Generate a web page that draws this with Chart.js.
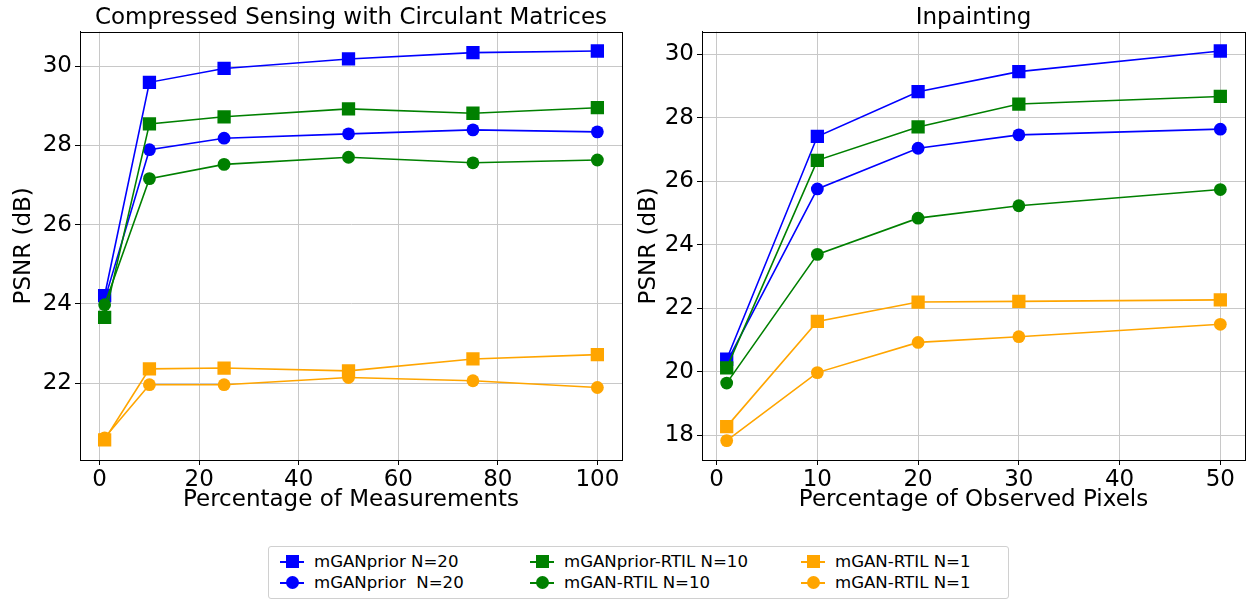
<!DOCTYPE html>
<html>
<head>
<meta charset="utf-8">
<script src="https://cdn.jsdelivr.net/npm/chart.js@4/dist/chart.umd.min.js"></script>
<style>
  body { margin: 0; background: #fff; width: 1249px; height: 602px; overflow: hidden; font-family: "DejaVu Sans", sans-serif; }
  #left { position: absolute; left: 0; top: 0; }
  #right { position: absolute; left: 625px; top: 0; }
  #legend { position: absolute; left: 268px; top: 546px; width: 741px; height: 53px; box-sizing: border-box;
            border: 1px solid #d0d0d0; border-radius: 3px; }
  .item { position: absolute; display: flex; align-items: center; height: 21px; font-size: 16.6px; white-space: pre; color: #000; }
  .mk { position: relative; width: 24px; height: 13px; margin-right: 10px; }
  .mk .ln { position: absolute; left: 0; right: 0; top: 5.5px; height: 2px; }
  .mk .pt { position: absolute; left: 5.5px; top: 0; width: 13px; height: 13px; }
</style>
</head>
<body>
<canvas id="left" width="625" height="520"></canvas>
<canvas id="right" width="624" height="520"></canvas>
<div id="legend"></div>
<script>
"use strict";

// series names, colours, marker styles
const seriesNames = ['mGANprior N=20', 'mGANprior  N=20', 'mGANprior-RTIL N=10', 'mGAN-RTIL N=10', 'mGAN-RTIL N=1', 'mGAN-RTIL N=1'];
const seriesColors = ['#0000ff', '#0000ff', '#008000', '#008000', '#ffa500', '#ffa500'];
const seriesMarkers = ['rect', 'circle', 'rect', 'circle', 'rect', 'circle'];

// Compressed Sensing with Circulant Matrices
const csX = [1, 10, 25, 50, 75, 100];
const csPriorSq = [24.21, 29.59, 29.94, 30.18, 30.34, 30.38];
const csPriorCi = [24.10, 27.89, 28.18, 28.29, 28.39, 28.34];
const csRtil10Sq = [23.66, 28.54, 28.72, 28.92, 28.81, 28.95];
const csRtil10Ci = [23.98, 27.16, 27.52, 27.70, 27.56, 27.63];
const csRtil1Sq = [20.57, 22.36, 22.38, 22.31, 22.61, 22.72];
const csRtil1Ci = [20.62, 21.96, 21.96, 22.14, 22.06, 21.89];

// Inpainting
const ipX = [1, 10, 20, 30, 50];
const ipPriorSq = [20.40, 27.41, 28.82, 29.45, 30.10];
const ipPriorCi = [20.30, 25.76, 27.04, 27.46, 27.64];
const ipRtil10Sq = [20.13, 26.66, 27.71, 28.43, 28.67];
const ipRtil10Ci = [19.65, 23.70, 24.84, 25.23, 25.74];
const ipRtil1Sq = [18.28, 21.59, 22.20, 22.22, 22.27];
const ipRtil1Ci = [17.84, 19.98, 20.93, 21.11, 21.50];

const FONT = 'DejaVu Sans';
const FS = 23;

// matplotlib-like frame round the plot area
const framePlugin = {
  id: 'frame',
  afterDraw(chart) {
    const a = chart.chartArea, ctx = chart.ctx;
    ctx.save();
    ctx.strokeStyle = '#000';
    ctx.lineWidth = 1;
    ctx.strokeRect(Math.round(a.left) + 0.5, Math.round(a.top) + 0.5, Math.round(a.right - a.left), Math.round(a.bottom - a.top));
    ctx.restore();
  }
};

function noPad(s) {
  s.paddingLeft = 0; s.paddingRight = 0; s.paddingTop = 0; s.paddingBottom = 0;
}

function buildSets(xs, lists) {
  return lists.map((ys, i) => ({
    label: seriesNames[i],
    data: xs.map((x, j) => ({ x: x, y: ys[j] })),
    borderColor: seriesColors[i],
    backgroundColor: seriesColors[i],
    borderWidth: 1.6,
    pointStyle: seriesMarkers[i],
    pointRadius: seriesMarkers[i] === 'rect' ? 9.4 : 6.4,
    pointBorderWidth: 0,
    order: lists.length - i,
    tension: 0
  }));
}

function makeChart(id, title, xLabel, xs, lists, xr, yr, yStep, xStep, yWidth, rightPad) {
  return new Chart(document.getElementById(id), {
    type: 'line',
    data: { datasets: buildSets(xs, lists) },
    options: {
      responsive: false,
      animation: false,
      layout: { autoPadding: false, padding: { left: 0, right: rightPad, top: 0, bottom: 0 } },
      plugins: {
        legend: { display: false },
        tooltip: { enabled: false },
        title: { display: true, fullSize: false, text: title, color: '#000', font: { family: FONT, size: FS, weight: 'normal' }, padding: { top: 4, bottom: 0 } }
      },
      scales: {
        x: {
          type: 'linear', min: xr[0], max: xr[1],
          grid: { color: '#c8c8c8', tickColor: '#000', tickLength: 5 },
          border: { color: '#000' },
          ticks: { stepSize: xStep, includeBounds: false, color: '#000', padding: 1, maxRotation: 0, font: { family: FONT, size: FS } },
          title: { display: true, text: xLabel, color: '#000', font: { family: FONT, size: FS }, padding: { top: 0, bottom: 6 } },
          afterFit(s) { s.height = 60; noPad(s); }
        },
        y: {
          type: 'linear', min: yr[0], max: yr[1],
          grid: { color: '#c8c8c8', tickColor: '#000', tickLength: 5 },
          border: { color: '#000' },
          ticks: { stepSize: yStep, includeBounds: false, color: '#000', padding: 3, font: { family: FONT, size: FS } },
          title: { display: true, text: 'PSNR (dB)', color: '#000', font: { family: FONT, size: FS }, padding: { top: 10, bottom: 0 } },
          afterFit(s) { s.width = yWidth; noPad(s); }
        }
      }
    },
    plugins: [framePlugin]
  });
}

makeChart('left', 'Compressed Sensing with Circulant Matrices', 'Percentage of Measurements', csX,
  [csPriorSq, csPriorCi, csRtil10Sq, csRtil10Ci, csRtil1Sq, csRtil1Ci],
  [-3.95, 104.95], [20.06, 30.87], 2, 20, 80, 3);

makeChart('right', 'Inpainting', 'Percentage of Observed Pixels', ipX,
  [ipPriorSq, ipPriorCi, ipRtil10Sq, ipRtil10Ci, ipRtil1Sq, ipRtil1Ci],
  [-1.45, 52.45], [17.23, 30.71], 2, 10, 77, 4);

// legend, three columns filled top-down like matplotlib
const legend = document.getElementById('legend');
const colLeft = [11, 261, 532];
for (let i = 0; i < seriesNames.length; i++) {
  const item = document.createElement('div');
  item.className = 'item';
  item.style.left = colLeft[Math.floor(i / 2)] + 'px';
  item.style.top = (4 + (i % 2) * 21) + 'px';
  const mk = document.createElement('span');
  mk.className = 'mk';
  mk.innerHTML = '<span class="ln" style="background:' + seriesColors[i] + '"></span>' +
    '<span class="pt" style="background:' + seriesColors[i] + ';border-radius:' + (seriesMarkers[i] === 'circle' ? '50%' : '0') + '"></span>';
  item.appendChild(mk);
  item.appendChild(document.createTextNode(seriesNames[i]));
  legend.appendChild(item);
}
</script>
</body>
</html>
